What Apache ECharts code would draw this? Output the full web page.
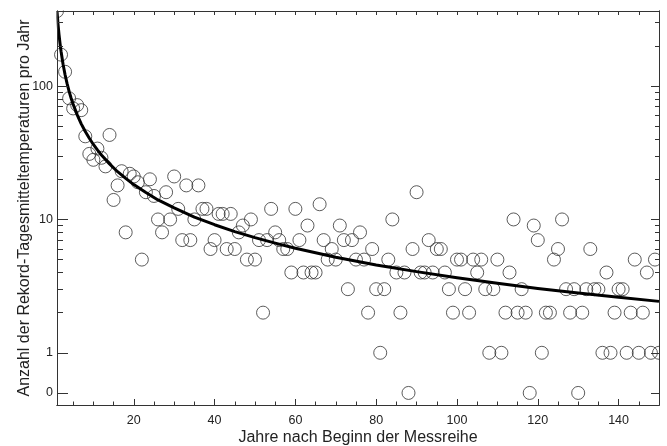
<!DOCTYPE html>
<html>
<head>
<meta charset="utf-8">
<script src="https://cdn.jsdelivr.net/npm/echarts@6/dist/echarts.min.js"></script>
<style>
html,body{margin:0;padding:0;background:#fff;}
#c{width:667px;height:446px;}
</style>
</head>
<body>
<div id="c"></div>
<script>
// Years after start of the measurement series (1..150)
var years = [];
for (var i = 1; i <= 150; i++) years.push(i);

// Number of record daily-mean temperatures per year
var recordCounts = [
  365,172,128,81,68,72,66,42,31,28,
  34,29,25,43,14,18,23,8,22,21,
  19,5,16,20,15,10,8,16,10,21,
  12,7,18,7,10,18,12,12,6,7,
  11,11,6,11,6,8,9,5,10,5,
  7,2,7,12,8,7,6,6,4,12,
  7,4,9,4,4,13,7,5,6,5,
  9,7,3,7,5,8,5,2,6,3,
  1,3,5,10,4,2,4,0,6,16,
  4,4,7,4,6,6,4,3,2,5,
  5,3,2,5,4,5,3,1,3,5,
  1,2,4,10,2,3,2,0,9,7,
  1,2,2,5,6,10,3,2,3,0,
  2,3,6,3,3,1,4,1,2,3,
  3,1,2,5,1,2,4,1,5,1
];

// Expected-record curve
var curveYears  = [1,1.25,1.5,1.75,2,2.5,3,3.5,4,4.5,5,6,7,8,9,10,11,12,14,16,18,20,23,26,30,35,40,45,50,55,60,70,80,90,100,110,120,130,140,150];
var curveValues = [365,292,243.3,208.6,182.5,146,121.7,104.3,91.25,81.1,73,60.8,52.1,45.6,40.6,36.5,33.2,30.4,26.1,22.8,20.3,18.25,15.9,14.0,12.2,10.4,9.13,8.11,7.3,6.64,6.08,5.21,4.56,4.06,3.65,3.32,3.04,2.81,2.61,2.43];

// Axis ticks
var yMajorTicks = [0.5, 1, 10, 100];
var yMinorTicks = [2,3,4,5,6,7,8,9,20,30,40,50,60,70,80,90,200,300];
var xMajorTicks = [20,40,60,80,100,120,140];
var xMinorTicks = [5,10,15,25,30,35,45,50,55,65,70,75,85,90,95,105,110,115,125,130,135,145,150];
var xAllTicks = [5,10,15,20,25,30,35,40,45,50,55,60,65,70,75,80,85,90,95,100,105,110,115,120,125,130,135,140,145,150];

var ZERO_POS = 0.5; // where a count of 0 is drawn on the log axis

var scatterData = years.map(function (y, i) {
  var v = recordCounts[i];
  return [y, v === 0 ? ZERO_POS : v];
});
var curveData = curveYears.map(function (y, i) { return [y, curveValues[i]]; });

var AX = '#333';
var FONT = 'Liberation Sans, Arial, Helvetica, sans-serif';

function yAxis(pos, ticks, len, labels, name) {
  var a = {
    type: 'log', logBase: 10, position: pos, min: 0.406, max: 365.6,
    axisLine: {show: true, lineStyle: {color: AX, width: 1}},
    axisTick: {show: true, inside: true, length: len, customValues: ticks, lineStyle: {color: AX, width: 1}},
    axisLabel: {show: labels},
    splitLine: {show: false}, minorTick: {show: false}, minorSplitLine: {show: false},
    z: 20
  };
  if (labels) {
    a.axisLabel = {show: true, customValues: yMajorTicks, margin: 4, fontSize: 12.5, color: '#222', fontFamily: FONT,
      formatter: function (v) { return v < 0.9 ? '0' : String(Math.round(v)); }};
  }
  if (name) {
    a.name = name; a.nameLocation = 'middle'; a.nameGap = 24; a.nameRotate = 90;
    a.nameMoveOverlap = false;
    a.nameTextStyle = {fontSize: 16, color: '#222', fontFamily: FONT};
  }
  return a;
}
function xAxis(pos, ticks, len, labels, name) {
  var a = {
    type: 'value', position: pos, min: 1, max: 150,
    axisLine: {show: true, onZero: false, lineStyle: {color: AX, width: 1}},
    axisTick: {show: true, inside: true, length: len, customValues: ticks, lineStyle: {color: AX, width: 1}},
    axisLabel: {show: false},
    splitLine: {show: false},
    z: 20
  };
  if (labels) {
    a.axisLabel = {show: true, customValues: xMajorTicks, margin: 9, fontSize: 12.5, color: '#222', fontFamily: FONT};
  }
  if (name) {
    a.name = name; a.nameLocation = 'middle'; a.nameGap = 25;
    a.nameMoveOverlap = false;
    a.nameTextStyle = {fontSize: 16, color: '#222', fontFamily: FONT};
  }
  return a;
}

var chart = echarts.init(document.getElementById('c'), null, {renderer: 'canvas'});
chart.setOption({
  animation: false,
  backgroundColor: '#fff',
  grid: {left: 57, right: 8, top: 11, bottom: 41, containLabel: false, outerBoundsMode: 'none'},
  xAxis: [
    xAxis('bottom', xMajorTicks, 6, true, 'Jahre nach Beginn der Messreihe'),
    xAxis('bottom', xMinorTicks, 3.5, false),
    xAxis('top', xAllTicks, 4, false)
  ],
  yAxis: [
    yAxis('left', yMajorTicks, 11, true, 'Anzahl der Rekord-Tagesmitteltemperaturen pro Jahr'),
    yAxis('left', yMinorTicks, 6, false),
    yAxis('right', yMajorTicks, 8, false),
    yAxis('right', yMinorTicks, 4, false)
  ],
  // white masks outside the plot frame so edge circles look clipped by the frame
  graphic: [
    {type: 'rect', z: 10, silent: true, shape: {x: 35, y: 0, width: 632, height: 10.5}, style: {fill: '#fff'}},
    {type: 'rect', z: 10, silent: true, shape: {x: 35, y: 0, width: 21.5, height: 30}, style: {fill: '#fff'}},
    {type: 'rect', z: 10, silent: true, shape: {x: 659.5, y: 0, width: 8, height: 446}, style: {fill: '#fff'}}
  ],
  series: [
    {
      type: 'scatter', xAxisIndex: 0, yAxisIndex: 0, data: scatterData,
      symbol: 'circle', symbolSize: 13, clip: true,
      itemStyle: {color: 'rgba(0,0,0,0)', borderColor: '#333', borderWidth: 1},
      z: 2
    },
    {
      type: 'line', xAxisIndex: 0, yAxisIndex: 0, data: curveData,
      smooth: false, showSymbol: false, symbol: 'none', clip: true,
      lineStyle: {color: '#000', width: 3, join: 'round'}, z: 3
    }
  ]
});
</script>
</body>
</html>
